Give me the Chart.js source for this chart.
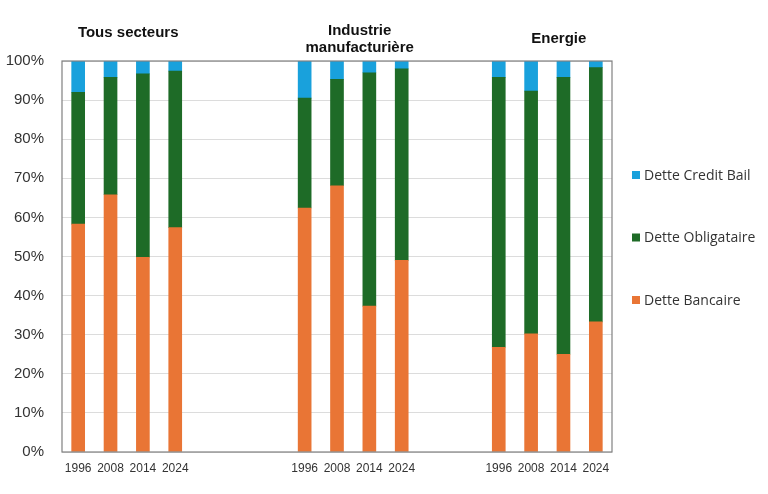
<!DOCTYPE html>
<html>
<head>
<meta charset="utf-8">
<script src="https://cdn.jsdelivr.net/npm/chart.js@4"></script>
<style>
  html, body { margin: 0; padding: 0; background: #ffffff; }
  #wrap { width: 768px; height: 494px; position: relative; }
</style>
</head>
<body>
<div id="wrap"><canvas id="c" width="768" height="494"></canvas></div>
<script>
// ---- data ----
const years = ['1996', '2008', '2014', '2024'];
const groupTitles = [['Tous secteurs'], ['Industrie', 'manufacturière'], ['Energie']];
const gapsAfterGroup = [3, 2];          // empty category slots between groups
const seriesNames = ['Dette Bancaire', 'Dette Obligataire', 'Dette Credit Bail'];
// values per group: Tous secteurs, Industrie manufacturière, Energie (each 1996, 2008, 2014, 2024)
const detteBancaire    = [58.3, 65.8, 49.8, 57.4,   62.4, 68.1, 37.3, 49.0,   26.8, 30.2, 25.0, 33.3];
const detteObligataire = [33.7, 30.0, 46.9, 40.0,   28.1, 27.2, 59.7, 49.0,   69.0, 62.1, 70.8, 65.0];
const detteCreditBail  = [ 8.0,  4.2,  3.3,  2.6,    9.5,  4.7,  3.0,  2.0,    4.2,  7.7,  4.2,  1.7];
const seriesColors = ['#e97535', '#1e6b27', '#19a1dc'];

// ---- build category table with empty slots ----
const labels = [];
const slotIndex = [];   // for each data point, category slot
const groupSlots = [];
groupTitles.forEach((t, g) => {
  const slots = [];
  years.forEach((y) => { slots.push(labels.length); slotIndex.push(labels.length); labels.push(y); });
  groupSlots.push(slots);
  if (g < gapsAfterGroup.length) for (let k = 0; k < gapsAfterGroup[g]; k++) labels.push('');
});
function spread(vals) {
  const out = labels.map(() => null);
  vals.forEach((v, i) => { out[slotIndex[i]] = v; });
  return out;
}
const seriesValues = [detteBancaire, detteObligataire, detteCreditBail];

const datasets = seriesNames.map((name, i) => ({
  label: name,
  data: spread(seriesValues[i]),
  backgroundColor: seriesColors[i],
  borderWidth: 0,
  barThickness: 13,
  stack: 's'
}));

// ---- plugins ----
const framePlugin = {
  id: 'frame',
  afterDraw(chart) {
    const { ctx, chartArea: a } = chart;
    ctx.save();
    ctx.strokeStyle = '#808080';
    ctx.lineWidth = 1.2;
    ctx.strokeRect(a.left, a.top, a.right - a.left, a.bottom - a.top);
    ctx.restore();
  }
};

const titleOffsets = [1.5, 6.5, 11.5];
const titleTops = [33, 31, 39];
const groupTitlePlugin = {
  id: 'groupTitles',
  afterDraw(chart) {
    const { ctx } = chart;
    const xs = chart.scales.x;
    ctx.save();
    ctx.fillStyle = '#111111';
    ctx.font = 'bold 15px "Liberation Sans", Arial, sans-serif';
    ctx.textAlign = 'center';
    ctx.textBaseline = 'middle';
    groupTitles.forEach((lines, g) => {
      const s = groupSlots[g];
      const cx = (xs.getPixelForValue(s[0]) + xs.getPixelForValue(s[s.length - 1])) / 2 + titleOffsets[g];
      lines.forEach((ln, j) => ctx.fillText(ln, cx, titleTops[g] + j * 17));
    });
    ctx.restore();
  }
};

const legendPlugin = {
  id: 'sideLegend',
  afterDraw(chart) {
    const { ctx } = chart;
    ctx.save();
    ctx.font = '14px "Open Sans", sans-serif';
    ctx.textBaseline = 'middle';
    const order = [2, 1, 0];
    order.forEach((di, k) => {
      const y = 175 + k * 62.5;
      ctx.fillStyle = chart.data.datasets[di].backgroundColor;
      ctx.fillRect(632, y - 4, 8, 8);
      ctx.fillStyle = '#333333';
      ctx.fillText(chart.data.datasets[di].label, 644, y + 1);
    });
    ctx.restore();
  }
};

new Chart(document.getElementById('c'), {
  type: 'bar',
  data: { labels, datasets },
  options: {
    responsive: false,
    animation: false,
    maintainAspectRatio: false,
    layout: { padding: { top: 61, right: 156, bottom: 0, left: 4 } },
    plugins: { legend: { display: false }, tooltip: { enabled: false } },
    scales: {
      x: {
        stacked: true,
        grid: { display: false, drawTicks: false },
        border: { display: false },
        ticks: {
          autoSkip: false, maxRotation: 0, padding: 9,
          color: '#333333',
          font: { family: '"Liberation Sans", Arial, sans-serif', size: 12 }
        },
        afterFit(scale) { scale.height = 42; }
      },
      y: {
        stacked: true,
        min: 0, max: 100,
        grid: { color: '#dcdcdc', lineWidth: 1, drawTicks: false },
        border: { display: false },
        ticks: {
          stepSize: 10, padding: 18,
          color: '#333333',
          font: { family: '"Liberation Sans", Arial, sans-serif', size: 15 },
          callback: (v) => v + '%'
        },
        afterFit(scale) { scale.width = 58; }
      }
    }
  },
  plugins: [framePlugin, groupTitlePlugin, legendPlugin]
});
</script>
</body>
</html>
